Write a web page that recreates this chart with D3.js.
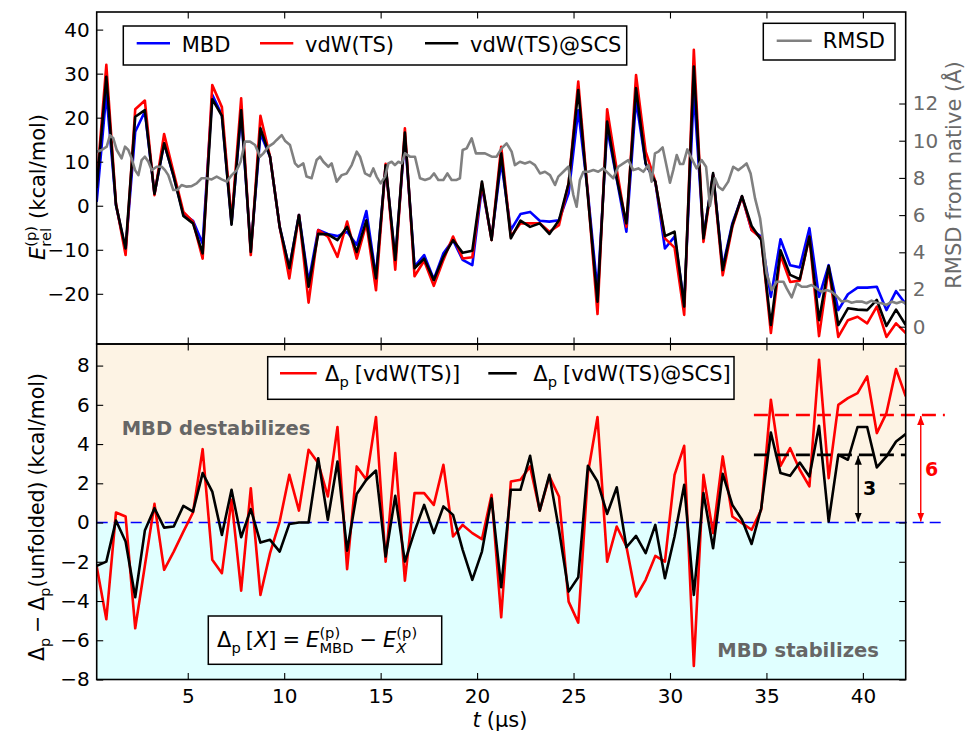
<!DOCTYPE html>
<html>
<head>
<meta charset="utf-8">
<script src="https://cdn.jsdelivr.net/npm/d3@7"></script>
<style>
  body { margin: 0; background: #fff; }
  text { font-family: "DejaVu Sans", sans-serif; }
</style>
</head>
<body>
<svg id="chart" width="967" height="734"></svg>
<script>
// sampling of the energy series (85 snapshots)
var t0 = 0.28, dt = 0.49929;

var energyMBD = [0.9, 25.5, 0.2, -10.1, 16.8, 21.4, 2.7, 14.2, 6.6, -1.9,
  -3.4, -8.6, 25.2, 20.6, -4.0, 21.0, -10.1, 16.4, 11.1, -4.8,
  -14.2, -2.1, -17.3, -5.5, -6.4, -6.9, -5.9, -8.9, -1.2, -16.1,
  8.9, -12.3, 15.7, -13.8, -11.2, -16.7, -10.8, -7.8, -12.3, -13.5,
  4.3, -7.4, 10.0, -5.5, -1.9, -1.4, -3.4, -3.6, -3.3, 2.8,
  21.7, 3.0, -19.5, 17.6, 6.0, -5.9, 24.0, 9.5, 5.5, -9.7,
  -7.0, -22.2, 26.0, -7.0, 7.0, -13.9, -4.0, 2.1, -5.5, -7.0,
  -20.7, -7.6, -13.5, -14.0, -5.1, -20.7, -13.5, -23.7, -20.1, -18.6,
  -18.6, -18.4, -23.7, -19.4, -22.3];

var energyTS = [5, 32.0, 0.5, -11.2, 21.9, 23.9, 2.4, 16.3, 7.4, -1.4,
  -3.6, -12.0, 27.4, 22.4, -3.5, 24.4, -11.2, 20.4, 11.1, -4.8,
  -16.5, -2.1, -22.0, -5.5, -7.0, -11.6, -3.6, -12.0, -4.0, -19.2,
  9.5, -14.5, 17.6, -16.0, -12.5, -18.2, -12.3, -7.0, -12.0, -11.7,
  5.1, -7.8, 13.4, -7.0, -4.0, -4.0, -4.0, -5.9, -4.4, 5.1,
  28.2, 2.5, -24.6, 21.9, 8.2, -4.8, 29.7, 12.3, 5.5, -7.4,
  -9.5, -24.8, 35.4, -8.2, 7.0, -15.8, -4.8, 2.1, -5.5, -7.4,
  -28.9, -11.2, -17.3, -17.0, -7.0, -29.6, -14.2, -29.8, -26.0, -25.2,
  -26.7, -22.9, -29.8, -26.7, -28.9];

var energySCS = [4, 29.3, 0.2, -9.7, 20.2, 21.7, 2.7, 14.2, 6.6, -2.3,
  -4.0, -10.8, 24.2, 20.4, -4.3, 21.7, -10.5, 17.6, 11.1, -4.8,
  -14.2, -2.1, -18.4, -6.4, -6.5, -7.8, -4.8, -10.5, -3.3, -16.5,
  9.2, -12.3, 16.6, -14.2, -12.0, -16.9, -11.6, -7.8, -10.7, -10.2,
  5.5, -7.8, 11.9, -7.4, -3.4, -4.8, -4.0, -6.4, -3.3, 5.1,
  26.3, 2.1, -21.8, 19.1, 6.2, -4.0, 26.7, 9.6, 5.5, -6.9,
  -5.9, -22.9, 31.6, -7.4, 7.4, -14.6, -4.4, 2.2, -4.6, -7.8,
  -27.1, -10.1, -15.7, -16.7, -7.0, -26.0, -13.7, -27.1, -23.3, -23.6,
  -23.7, -21.4, -27.3, -23.6, -27.1];

var deltaTS = [-2.24, -4.93, 0.51, 0.31, -5.39, -2.2, 0.95, -2.41, -1.48, -0.46,
  0.51, 3.74, -1.9, -2.58, 1.16, -3.47, 1.75, -3.69, -1.56, 0.05,
  2.43, 0.61, 3.71, 3.03, 1.33, 4.87, -2.38, 2.86, 2.18, 5.38,
  -1.99, 3.54, -2.96, 1.5, 1.5, 0.9, 2.94, -0.71, -0.12, -0.54,
  -0.85, 1.41, -4.83, 2.09, 2.18, 2.86, 0.61, 2.35, 1.33, -4.03,
  -5.1, 2.5, 5.38, -1.99, -0.2, -1.22, -3.77, -2.92, -1.7, -1.99,
  2.43, 3.91, -7.31, 2.43, -0.54, 3.37, 0.31, -0.03, -0.37, 0.65,
  6.26, 2.89, 3.79, 2.69, 1.84, 8.3, 2.26, 6.0, 6.34, 6.6,
  7.45, 4.56, 5.58, 7.82, 6.43];

var deltaSCS = [-2.21, -1.99, 0.1, -0.97, -3.81, -0.41, 0.73, -0.26, -0.2, 0.85,
  0.56, 2.52, 1.58, -0.63, 1.67, -0.75, 0.68, -1.02, -0.88, -1.48,
  -0.07, 0.0, 0.0, 3.28, 0.14, 3.11, -1.43, 1.46, 2.18, 2.65,
  -1.73, 1.36, -1.99, -0.46, 0.9, -0.54, 0.82, 0.39, -1.39, -2.92,
  -1.48, 1.23, -3.3, 1.67, 1.67, 3.4, 0.61, 2.43, -0.37, -3.52,
  -2.79, 2.89, 2.09, 0.44, 1.8, -1.26, -0.68, -1.56, -0.12, -2.84,
  -0.71, 1.92, -3.69, 1.5, -1.31, 2.48, 0.9, 0.14, -1.09, 0.73,
  4.59, 2.52, 2.38, 3.06, 2.35, 4.93, 0.05, 3.45, 3.2, 4.87,
  4.87, 2.81, 3.37, 4.13, 4.51];

// RMSD is sampled more finely than the energies
var rmsdTime = [0.28, 0.54, 0.8, 0.97, 1.14, 1.32, 1.57, 1.75, 1.92, 2.09, 2.27, 2.44, 2.61, 2.78, 2.96,
  3.13, 3.39, 3.65, 3.82, 3.99, 4.25, 4.46, 4.68, 4.94, 5.2, 5.46, 5.72, 5.98, 6.24, 6.5, 6.76,
  7.02, 7.28, 7.54, 7.74, 7.97, 8.23, 8.49, 8.75, 8.92, 9.18, 9.44, 9.61, 9.87, 10.04, 10.3,
  10.56, 10.73, 10.99, 11.16, 11.42, 11.68, 11.86, 12.03, 12.29, 12.46, 12.72, 12.98, 13.24,
  13.5, 13.76, 13.93, 14.19, 14.45, 14.62, 14.79, 15.0, 15.23, 15.4, 15.57, 15.74, 15.92,
  16.09, 16.26, 16.52, 16.78, 17.04, 17.3, 17.56, 17.77, 17.99, 18.25, 18.46, 18.68, 18.94,
  19.11, 19.25, 19.46, 19.72, 19.94, 20.15, 20.41, 20.76, 21.01, 21.27, 21.53, 21.79, 21.96,
  22.22, 22.48, 22.74, 23.0, 23.26, 23.52, 23.78, 24.04, 24.21, 24.47, 24.73, 24.99, 25.16,
  25.33, 25.51, 25.77, 26.03, 26.28, 26.54, 26.8, 27.06, 27.32, 27.58, 27.84, 28.1, 28.36,
  28.62, 28.88, 29.05, 29.22, 29.4, 29.62, 29.83, 30.0, 30.17, 30.35, 30.52, 30.69, 30.9,
  31.12, 31.38, 31.64, 31.87, 32.07, 32.33, 32.51, 32.73, 33.02, 33.28, 33.54, 33.77, 33.97,
  34.18, 34.41, 34.67, 34.84, 35.01, 35.27, 35.53, 35.88, 36.05, 36.31, 36.57, 36.83, 37.09,
  37.34, 37.6, 37.86, 38.12, 38.38, 38.64, 38.9, 39.16, 39.42, 39.68, 39.94, 40.19, 40.45,
  40.71, 40.97, 41.23, 41.49, 41.75, 42.01, 42.22];

var rmsdValue = [9.41, 9.5, 9.68, 10.3, 10.13, 9.5, 9.05, 9.68, 9.5, 9.05, 8.42, 8.15, 8.96, 9.14, 8.87,
  8.42, 8.6, 8.6, 8.42, 8.15, 7.35, 7.35, 7.62, 7.53, 7.56, 7.71, 7.98, 7.98, 7.92, 8.07, 7.92,
  7.8, 8.15, 8.42, 8.87, 9.95, 9.95, 9.77, 9.14, 9.32, 9.68, 9.86, 10.04, 10.3, 10.0, 9.77,
  8.78, 8.6, 8.78, 8.07, 7.98, 8.96, 9.14, 8.87, 8.6, 8.78, 7.8, 8.15, 8.24,
  8.69, 9.41, 9.14, 8.24, 8.1, 8.51, 8.07, 7.71, 8.07, 8.78, 8.87, 8.69, 8.87,
  8.78, 9.32, 9.14, 9.14, 7.98, 7.89, 7.98, 8.24, 7.89, 7.89, 8.24, 7.89, 7.89,
  7.98, 9.5, 9.59, 10.13, 9.32, 9.32, 9.32, 9.14, 9.14, 9.59, 9.86, 9.41, 8.69,
  8.87, 8.78, 8.87, 8.69, 8.24, 8.33, 8.15, 7.62, 8.07, 8.33, 8.6, 7.08, 6.45,
  7.89, 8.33, 8.33, 8.42, 8.33, 8.51, 8.24, 7.98, 8.6, 8.78, 8.96, 8.42, 8.51,
  8.33, 8.69, 7.8, 9.32, 9.41, 9.64, 8.6, 7.74, 8.42, 9.23, 8.75, 8.75, 9.53,
  9.05, 8.51, 8.96, 8.6, 6.49, 7.98, 7.53, 7.35, 7.8, 8.6, 8.42, 8.6, 8.78,
  8.24, 6.9, 5.83, 4.48, 2.87, 1.97, 2.42, 2.42, 2.06, 1.58, 2.33, 2.15, 2.15,
  2.24, 2.06, 1.88, 1.97, 1.88, 1.65, 1.35, 1.4, 1.29, 1.35, 1.35, 1.26, 1.4,
  1.29, 1.26, 1.17, 1.35, 1.26, 1.35, 1.26];

// mean offsets of the unfolded part and the span they are drawn over
var unfoldedTS = 5.48, unfoldedSCS = 3.45;
var unfoldedStart = 34.35, guideEnd = 44.25, arrowSCS = 39.76, arrowTS = 43.0;

var xTicks = [5, 10, 15, 20, 25, 30, 35, 40];
var energyTicks = [-20, -10, 0, 10, 20, 30, 40];
var rmsdTicks = [0, 2, 4, 6, 8, 10, 12];
var deltaTicks = [-8, -6, -4, -2, 0, 2, 4, 6, 8];

var times = energyMBD.map(function(d, i) { return t0 + i * dt; });

var svg = d3.select('#chart');
var L = 96.7, R = 905.7, topY0 = 12, midY = 344, botY1 = 679.5;

var x = d3.scaleLinear().domain([0.28, 42.22]).range([L, R]);
var yE = d3.scaleLinear().domain([-31.4, 44]).range([midY, topY0]);
var yR = d3.scaleLinear().domain([-0.93, 16.92]).range([midY, topY0]);
var yD = d3.scaleLinear().domain([-8, 9.1]).range([botY1, midY]);

var minus = function(v) { return String(v).replace('-', '\u2212'); };

var defs = svg.append('defs');
defs.append('clipPath').attr('id', 'clipTop').append('rect')
  .attr('x', L).attr('y', topY0).attr('width', R - L).attr('height', midY - topY0);
defs.append('clipPath').attr('id', 'clipBot').append('rect')
  .attr('x', L).attr('y', midY).attr('width', R - L).attr('height', botY1 - midY);

function arrowHead(id, color) {
  defs.append('marker').attr('id', id)
    .attr('viewBox', '0 0 10 10').attr('refX', 10).attr('refY', 5)
    .attr('markerWidth', 9).attr('markerHeight', 9).attr('markerUnits', 'userSpaceOnUse')
    .attr('orient', 'auto-start-reverse')
    .append('path').attr('d', 'M0,1 L10,5 L0,9 Z').attr('fill', color);
}
arrowHead('headBlack', '#000');
arrowHead('headRed', '#f00');

// lays out plain / italic / stacked script pieces left to right, returns width
function richText(g, parts, size, fill) {
  var cx = 0;
  parts.forEach(function(p) {
    if (p.gap) { cx += p.gap; return; }
    if (p.sup !== undefined || p.sub !== undefined) {
      var w = 0;
      if (p.sup) {
        var s = g.append('text').attr('x', cx).attr('y', -size * 0.45)
          .style('font-size', size * 0.7 + 'px').text(p.sup);
        w = s.node().getComputedTextLength();
      }
      if (p.sub) {
        var b = g.append('text').attr('x', cx).attr('y', size * 0.27)
          .style('font-size', size * 0.7 + 'px')
          .style('font-style', p.subIt ? 'italic' : null).text(p.sub);
        w = Math.max(w, b.node().getComputedTextLength());
      }
      cx += w;
      return;
    }
    var t = g.append('text').attr('x', cx).attr('y', 0)
      .style('font-size', size + 'px')
      .style('font-style', p.it ? 'italic' : null)
      .style('font-weight', p.bold ? 'bold' : null)
      .text(p.t);
    cx += t.node().getComputedTextLength();
  });
  g.selectAll('text').attr('fill', fill);
  return cx;
}

function label(parts, size, fill, cx, cy, rotate) {
  var g = svg.append('g');
  var inner = g.append('g');
  var w = richText(inner, parts, size, fill);
  inner.attr('transform', 'translate(' + (-w / 2) + ',0)');
  g.attr('transform', 'translate(' + cx + ',' + cy + ')' + (rotate ? ' rotate(' + rotate + ')' : ''));
  return g;
}

// ---- bottom panel background
svg.append('rect').attr('x', L).attr('y', midY).attr('width', R - L)
  .attr('height', yD(0) - midY).attr('fill', '#fdf3e4');
svg.append('rect').attr('x', L).attr('y', yD(0)).attr('width', R - L)
  .attr('height', botY1 - yD(0)).attr('fill', '#e0ffff');

// ---- top panel lines
var lineE = d3.line().x(function(d, i) { return x(times[i]); }).y(function(d) { return yE(d); });
var topG = svg.append('g').attr('clip-path', 'url(#clipTop)');
[[energyMBD, '#0000ff'], [energyTS, '#ff0000'], [energySCS, '#000000']].forEach(function(s) {
  topG.append('path').datum(s[0]).attr('d', lineE)
    .attr('fill', 'none').attr('stroke', s[1]).attr('stroke-width', 2.6)
    .attr('stroke-linejoin', 'round');
});
var lineR = d3.line().x(function(d, i) { return x(rmsdTime[i]); }).y(function(d) { return yR(d); });
topG.append('path').datum(rmsdValue).attr('d', lineR)
  .attr('fill', 'none').attr('stroke', '#808080').attr('stroke-width', 2.6)
  .attr('stroke-linejoin', 'round');

// ---- bottom panel lines and guides
svg.append('line').attr('x1', L).attr('x2', x(guideEnd)).attr('y1', yD(0)).attr('y2', yD(0))
  .attr('stroke', '#0000ff').attr('stroke-width', 1.4).attr('stroke-dasharray', '11,6');

var lineD = d3.line().x(function(d, i) { return x(times[i]); }).y(function(d) { return yD(d); });
var botG = svg.append('g').attr('clip-path', 'url(#clipBot)');
[[deltaTS, '#ff0000'], [deltaSCS, '#000000']].forEach(function(s) {
  botG.append('path').datum(s[0]).attr('d', lineD)
    .attr('fill', 'none').attr('stroke', s[1]).attr('stroke-width', 2.6)
    .attr('stroke-linejoin', 'round');
});

svg.append('line').attr('x1', x(unfoldedStart)).attr('x2', x(guideEnd))
  .attr('y1', yD(unfoldedTS)).attr('y2', yD(unfoldedTS))
  .attr('stroke', '#ff0000').attr('stroke-width', 2.6).attr('stroke-dasharray', '14,7');
svg.append('line').attr('x1', x(unfoldedStart)).attr('x2', R)
  .attr('y1', yD(unfoldedSCS)).attr('y2', yD(unfoldedSCS))
  .attr('stroke', '#000').attr('stroke-width', 2.6).attr('stroke-dasharray', '14,7');

svg.append('line').attr('x1', x(arrowSCS)).attr('x2', x(arrowSCS))
  .attr('y1', yD(unfoldedSCS) + 1).attr('y2', yD(0) - 1)
  .attr('stroke', '#000').attr('stroke-width', 1.4)
  .attr('marker-start', 'url(#headBlack)').attr('marker-end', 'url(#headBlack)');
svg.append('line').attr('x1', x(arrowTS)).attr('x2', x(arrowTS))
  .attr('y1', yD(unfoldedTS) + 1).attr('y2', yD(0) - 1)
  .attr('stroke', '#f00').attr('stroke-width', 1.4)
  .attr('marker-start', 'url(#headRed)').attr('marker-end', 'url(#headRed)');

svg.append('text').attr('x', 863).attr('y', 495).attr('font-size', 19).attr('font-weight', 'bold')
  .attr('fill', '#000').text(unfoldedSCS.toFixed(0));
svg.append('text').attr('x', 925).attr('y', 476).attr('font-size', 19).attr('font-weight', 'bold')
  .attr('fill', '#f00').text((unfoldedTS + 0.5).toFixed(0));

svg.append('text').attr('x', 121.7).attr('y', 435).attr('font-size', 19.5).attr('font-weight', 'bold')
  .attr('fill', '#666').text('MBD destabilizes');
svg.append('text').attr('x', 717.3).attr('y', 656.7).attr('font-size', 19.5).attr('font-weight', 'bold')
  .attr('fill', '#666').text('MBD stabilizes');

// ---- axes
function styleAxis(g, color) {
  g.select('.domain').remove();
  g.selectAll('.tick line').attr('stroke', '#000').attr('stroke-width', 1.1);
  g.selectAll('.tick text').attr('font-size', 20).attr('fill', color || '#000')
    .style('font-family', '"DejaVu Sans", sans-serif');
}
var tk = -6.5;
styleAxis(svg.append('g').attr('transform', 'translate(0,' + topY0 + ')')
  .call(d3.axisTop(x).tickValues(xTicks).tickSize(tk).tickFormat('')));
styleAxis(svg.append('g').attr('transform', 'translate(0,' + midY + ')')
  .call(d3.axisBottom(x).tickValues(xTicks).tickSize(tk).tickFormat('')));
styleAxis(svg.append('g').attr('transform', 'translate(0,' + midY + ')')
  .call(d3.axisTop(x).tickValues(xTicks).tickSize(tk).tickFormat('')));
styleAxis(svg.append('g').attr('transform', 'translate(0,' + botY1 + ')')
  .call(d3.axisBottom(x).tickValues(xTicks).tickSize(tk).tickPadding(9)));
styleAxis(svg.append('g').attr('transform', 'translate(' + L + ',0)')
  .call(d3.axisLeft(yE).tickValues(energyTicks).tickSize(tk).tickPadding(7).tickFormat(minus)));
styleAxis(svg.append('g').attr('transform', 'translate(' + R + ',0)')
  .call(d3.axisRight(yR).tickValues(rmsdTicks).tickSize(tk).tickPadding(7)), '#6a6a6a');
styleAxis(svg.append('g').attr('transform', 'translate(' + L + ',0)')
  .call(d3.axisLeft(yD).tickValues(deltaTicks).tickSize(tk).tickPadding(7).tickFormat(minus)));
styleAxis(svg.append('g').attr('transform', 'translate(' + R + ',0)')
  .call(d3.axisRight(yD).tickValues(deltaTicks).tickSize(tk).tickFormat('')));

svg.append('rect').attr('x', L).attr('y', topY0).attr('width', R - L).attr('height', midY - topY0)
  .attr('fill', 'none').attr('stroke', '#000').attr('stroke-width', 1.6);
svg.append('rect').attr('x', L).attr('y', midY).attr('width', R - L).attr('height', botY1 - midY)
  .attr('fill', 'none').attr('stroke', '#000').attr('stroke-width', 1.6);

// ---- legends
function legendBox(x0, y0, w, h) {
  svg.append('rect').attr('x', x0).attr('y', y0).attr('width', w).attr('height', h)
    .attr('fill', '#fff').attr('stroke', '#000').attr('stroke-width', 1.5);
}
function legendLine(x0, x1, yy, color) {
  svg.append('line').attr('x1', x0).attr('x2', x1).attr('y1', yy).attr('y2', yy)
    .attr('stroke', color).attr('stroke-width', 2.6);
}
legendBox(123.3, 26, 503.4, 39);
legendLine(136.7, 170, 43.3, '#0000ff');
svg.append('text').attr('x', 181.7).attr('y', 51.5).attr('font-size', 21).text('MBD');
legendLine(260, 293.3, 43.3, '#ff0000');
svg.append('text').attr('x', 305).attr('y', 51.5).attr('font-size', 21).text('vdW(TS)');
legendLine(425, 458.3, 43.3, '#000000');
svg.append('text').attr('x', 470).attr('y', 51.5).attr('font-size', 21).text('vdW(TS)@SCS');

legendBox(763.3, 23.3, 131.7, 36.7);
legendLine(776.7, 811.7, 40.7, '#808080');
svg.append('text').attr('x', 822.7).attr('y', 48).attr('font-size', 21).text('RMSD');

legendBox(267.7, 356.7, 466.3, 42.6);
legendLine(280, 316.7, 373.3, '#ff0000');
var lg1 = svg.append('g').attr('transform', 'translate(325,381)');
richText(lg1, [{t: '\u0394'}, {sub: 'p'}, {gap: 6}, {t: '[vdW(TS)]'}], 21, '#000');
legendLine(488.3, 516.7, 373.3, '#000000');
var lg2 = svg.append('g').attr('transform', 'translate(533.3,381)');
richText(lg2, [{t: '\u0394'}, {sub: 'p'}, {gap: 6}, {t: '[vdW(TS)@SCS]'}], 21, '#000');

legendBox(208.3, 616, 233.4, 48.3);
var fm = svg.append('g').attr('transform', 'translate(217,647)');
richText(fm, [{t: '\u0394'}, {sub: 'p'}, {gap: 5}, {t: '['}, {t: 'X', it: true}, {t: ']'},
  {gap: 6}, {t: '='}, {gap: 6}, {t: 'E', it: true}, {sup: '(p)', sub: 'MBD'},
  {gap: 6}, {t: '\u2212'}, {gap: 6}, {t: 'E', it: true}, {sup: '(p)', sub: 'X', subIt: true}], 21, '#000');

// ---- axis titles
label([{t: 'E', it: true}, {sup: '(p)', sub: 'rel'}, {gap: 7}, {t: '(kcal/mol)'}],
  21, '#000', 45, 187, -90);
label([{t: '\u0394'}, {sub: 'p'}, {gap: 5}, {t: '\u2212'}, {gap: 5}, {t: '\u0394'}, {sub: 'p'},
  {t: '(unfolded)'}, {gap: 6}, {t: '(kcal/mol)'}], 20.5, '#000', 44, 517, -90);
label([{t: 'RMSD from native (\u00c5)'}], 21, '#6a6a6a', 961, 175, -90);
label([{t: 't', it: true}, {gap: 6}, {t: '(\u00b5s)'}], 21, '#000', 500, 727, 0);
</script>
</body>
</html>
